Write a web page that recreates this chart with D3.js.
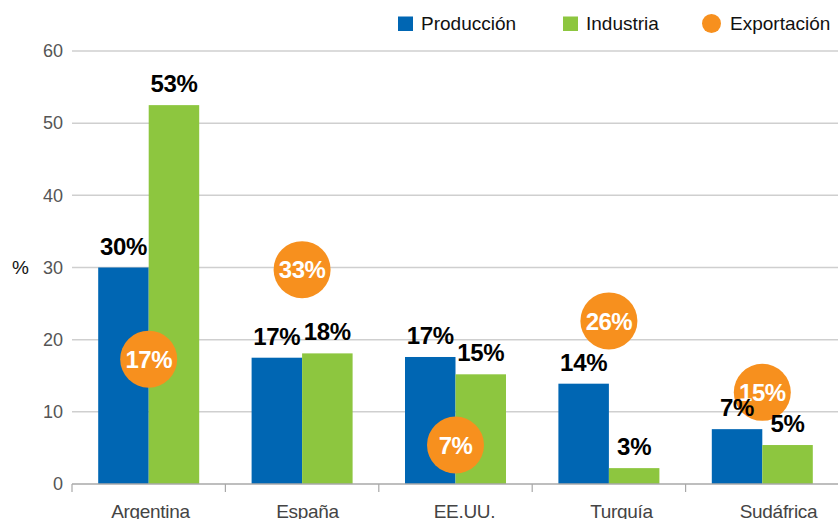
<!DOCTYPE html>
<html>
<head>
<meta charset="utf-8">
<script src="https://cdn.jsdelivr.net/npm/d3@7"></script>
<style>
  html, body { margin: 0; padding: 0; background: #fff; }
  svg { display: block; font-family: "Liberation Sans", Arial, sans-serif; }
</style>
</head>
<body>
<svg id="chart" width="838" height="519"></svg>
<script>
// ---- Data ----
const categories = ["Argentina", "España", "EE.UU.", "Turquía", "Sudáfrica"];
const produccion = [30, 17.5, 17.6, 13.9, 7.6];
const industria = [52.5, 18.1, 15.2, 2.2, 5.4];
const produccionLabels = ["30%", "17%", "17%", "14%", "7%"];
const industriaLabels = ["53%", "18%", "15%", "3%", "5%"];
const exportacionLabels = ["17%", "33%", "7%", "26%", "15%"];
// level (in % units) at which each export bubble is drawn in the picture
const exportacionNivel = [17.3, 29.7, 5.4, 22.6, 12.7];
const yTicks = [0, 10, 20, 30, 40, 50, 60];
const seriesNames = ["Producción", "Industria", "Exportación"];
const colors = { "Producción": "#0066B3", "Industria": "#8DC63F", "Exportación": "#F7901E" };

// ---- Layout ----
const svg = d3.select("#chart");
const W = 838, H = 519;
const plotLeft = 72, plotRight = 839, plotTop = 51, plotBottom = 484;

const x0 = d3.scaleBand().domain(categories).range([plotLeft, plotRight]).padding(0);
const barW = 50.5;
const x1 = d3.scaleBand().domain(["Producción", "Industria"])
  .range([x0.bandwidth() / 2 - barW, x0.bandwidth() / 2 + barW]).padding(0);
const xLabel = d3.scaleBand().domain(categories).range([plotLeft, 857]).padding(0);
const y = d3.scaleLinear().domain([0, 60]).range([plotBottom, plotTop]);

// gridlines
svg.append("g").selectAll("line").data(yTicks.filter(d => d > 0)).join("line")
  .attr("x1", plotLeft).attr("x2", W)
  .attr("y1", d => y(d)).attr("y2", d => y(d))
  .attr("stroke", "#cfcfcf").attr("stroke-width", 1.5);

// y tick labels
svg.append("g").selectAll("text").data(yTicks).join("text")
  .attr("x", 63).attr("y", d => y(d)).attr("dy", "0.35em")
  .attr("text-anchor", "end")
  .attr("font-size", 18).attr("fill", "#555")
  .text(d => d);

// % label
svg.append("text").attr("x", 12).attr("y", y(30)).attr("dy", "0.35em")
  .attr("font-size", 19).attr("fill", "#111").text("%");

// bars
const rows = categories.map((c, i) => ({ c, i }));
const groups = svg.append("g").selectAll("g").data(rows).join("g")
  .attr("transform", d => `translate(${x0(d.c)},0)`);
groups.append("rect")
  .attr("x", x1("Producción")).attr("width", x1.bandwidth())
  .attr("y", d => y(produccion[d.i])).attr("height", d => y(0) - y(produccion[d.i]))
  .attr("fill", colors["Producción"]);
groups.append("rect")
  .attr("x", x1("Industria")).attr("width", x1.bandwidth())
  .attr("y", d => y(industria[d.i])).attr("height", d => y(0) - y(industria[d.i]))
  .attr("fill", colors["Industria"]);

// x axis baseline and ticks
svg.append("line").attr("x1", plotLeft).attr("x2", W)
  .attr("y1", y(0)).attr("y2", y(0)).attr("stroke", "#a8a8a8").attr("stroke-width", 1.5);
svg.append("g").selectAll("line").data(categories).join("line")
  .attr("x1", d => x0(d)).attr("x2", d => x0(d))
  .attr("y1", y(0)).attr("y2", y(0) + 8)
  .attr("stroke", "#a8a8a8").attr("stroke-width", 1.2);

// category labels
svg.append("g").selectAll("text").data(categories).join("text")
  .attr("x", d => xLabel(d) + xLabel.bandwidth() / 2).attr("y", 518)
  .attr("text-anchor", "middle").attr("font-size", 19).attr("fill", "#444")
  .attr("letter-spacing", "-0.3")
  .text(d => d);

// export bubbles
const bub = svg.append("g").selectAll("g").data(rows).join("g")
  .attr("transform", d => `translate(${x0(d.c) + x0.bandwidth() / 2},${y(exportacionNivel[d.i])})`);
bub.append("circle").attr("r", 28.5).attr("fill", colors["Exportación"]);
bub.append("text").attr("text-anchor", "middle").attr("dy", "0.36em")
  .attr("font-size", 24).attr("font-weight", "bold").attr("fill", "#fff")
  .attr("letter-spacing", "-0.5")
  .text(d => exportacionLabels[d.i]);

// bar value labels
const lbl = svg.append("g");
lbl.selectAll("text.p").data(rows).join("text").attr("class", "p")
  .attr("x", d => x0(d.c) + x1("Producción") + x1.bandwidth() / 2)
  .attr("y", d => y(produccion[d.i]) - 13)
  .attr("text-anchor", "middle").attr("font-size", 24).attr("font-weight", "bold").attr("fill", "#000")
  .attr("letter-spacing", "-0.3")
  .text(d => produccionLabels[d.i]);
lbl.selectAll("text.i").data(rows).join("text").attr("class", "i")
  .attr("x", d => x0(d.c) + x1("Industria") + x1.bandwidth() / 2)
  .attr("y", d => y(industria[d.i]) - 13)
  .attr("text-anchor", "middle").attr("font-size", 24).attr("font-weight", "bold").attr("fill", "#000")
  .attr("letter-spacing", "-0.3")
  .text(d => industriaLabels[d.i]);

// legend
const legendX = [398, 563, 702];
const leg = svg.append("g").selectAll("g").data(seriesNames).join("g")
  .attr("transform", (d, i) => `translate(${legendX[i]},0)`);
leg.each(function (d, i) {
  const g = d3.select(this);
  if (d === "Exportación") {
    g.append("circle").attr("cx", 9.5).attr("cy", 23.5).attr("r", 9.5).attr("fill", colors[d]);
  } else {
    g.append("rect").attr("x", 0).attr("y", 16.5).attr("width", 15).attr("height", 14.5).attr("fill", colors[d]);
  }
  g.append("text").attr("x", i === 2 ? 28 : 23).attr("y", 30)
    .attr("font-size", 19).attr("fill", "#111").text(d);
});
</script>
</body>
</html>
